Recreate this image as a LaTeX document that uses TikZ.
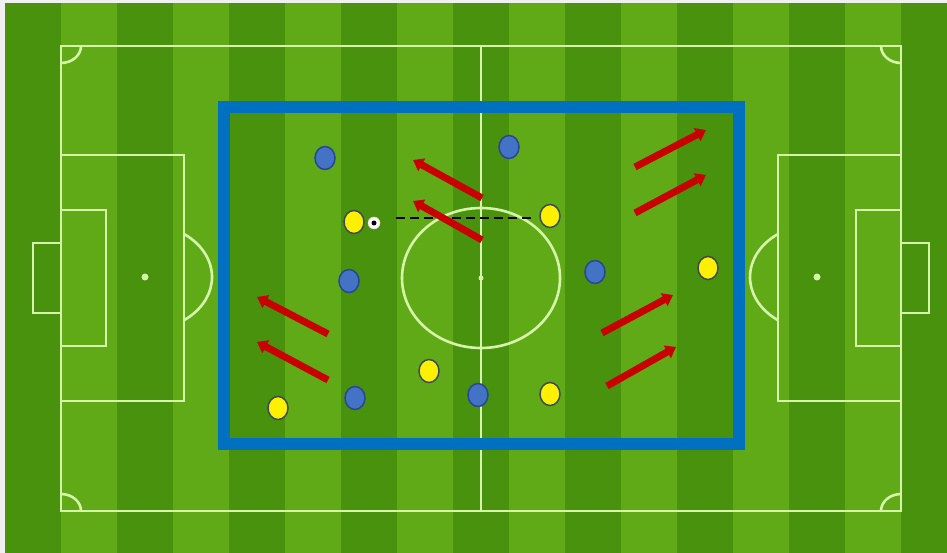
\documentclass[tikz,border=0pt]{standalone}
\usetikzlibrary{arrows.meta}
\definecolor{dstripe}{RGB}{72,146,14}
\definecolor{lstripe}{RGB}{96,170,24}
\definecolor{fline}{RGB}{215,245,170}
\definecolor{zone}{RGB}{0,112,192}
\definecolor{pblue}{RGB}{68,114,196}
\definecolor{pblueedge}{RGB}{40,70,150}
\definecolor{pyellow}{RGB}{255,240,0}
\definecolor{pyedge}{RGB}{60,75,90}
\definecolor{runred}{RGB}{200,0,0}
\tikzset{
  pitchline/.style={draw=fline, line width=2.6pt},
  blueplayer/.style={ellipse, draw=pblueedge, fill=pblue, line width=1.5pt, minimum width=20pt, minimum height=23pt, inner sep=0pt},
  yellowplayer/.style={ellipse, draw=pyedge, fill=pyellow, line width=1.5pt, minimum width=20pt, minimum height=23pt, inner sep=0pt},
  run/.style={draw=runred, line width=7pt, -{Triangle[length=10pt,width=14pt]}},
  passline/.style={draw=black, line width=2.6pt, dash pattern=on 9pt off 5pt},
}
\usetikzlibrary{shapes.geometric}
\begin{document}
\begin{tikzpicture}[x=1pt,y=-1pt]
\useasboundingbox (0,0) rectangle (947,553);
\fill[gray!12] (0,0) rectangle (947,553);
\fill[dstripe] (5,3) rectangle (947,553);
\foreach \i in {0,2,...,14} {
  \fill[lstripe] ({61+56*\i},3) rectangle ({117+56*\i},553);
}
% pitch markings
\draw[pitchline] (61,46) rectangle (901,511);
\draw[pitchline] (481,46) -- (481,511);
\draw[pitchline] (481,278) ellipse [x radius=79, y radius=70];
\fill[fline] (481,278) circle (2.5);
% left
\draw[pitchline] (61,155) rectangle (184,401);
\draw[pitchline] (61,210) rectangle (106,346);
\draw[pitchline] (33,243) rectangle (61,313);
\fill[fline] (145,277) circle (3.5);
\draw[pitchline] (184,234) arc[start angle=-54.4, end angle=54.4, x radius=67, y radius=53];
% right
\draw[pitchline] (778,155) rectangle (901,401);
\draw[pitchline] (856,210) rectangle (901,346);
\draw[pitchline] (901,243) rectangle (929,313);
\fill[fline] (817,277) circle (3.5);
\draw[pitchline] (778,234) arc[start angle=234.4, end angle=125.6, x radius=67, y radius=53];
% corner arcs
\draw[pitchline] (81,46) arc[start angle=0, end angle=90, x radius=20, y radius=17];
\draw[pitchline] (61,494) arc[start angle=-90, end angle=0, x radius=20, y radius=17];
\draw[pitchline] (881,46) arc[start angle=180, end angle=90, x radius=20, y radius=17];
\draw[pitchline] (881,511) arc[start angle=180, end angle=270, x radius=20, y radius=17];
% zone
\draw[draw=zone, line width=12pt] (224,107) rectangle (739,444);
% pass
\coordinate (ps) at (396,218);
\coordinate (pe) at (532,218);
\draw[passline] (ps) -- (pe);
% runs
\coordinate (r1s) at (482,198); \coordinate (r1e) at (413,160);
\coordinate (r2s) at (482,240); \coordinate (r2e) at (413,201);
\coordinate (r3s) at (328,334); \coordinate (r3e) at (257,297);
\coordinate (r4s) at (328,380); \coordinate (r4e) at (257,342);
\coordinate (r5s) at (635,167); \coordinate (r5e) at (706,130);
\coordinate (r6s) at (635,213); \coordinate (r6e) at (706,175);
\coordinate (r7s) at (602,333); \coordinate (r7e) at (673,295);
\coordinate (r8s) at (607,386); \coordinate (r8e) at (676,347);
\foreach \k in {1,...,8} { \draw[run] (r\k s) -- (r\k e); }
% blue players
\node[blueplayer] (b1) at (325,158) {};
\node[blueplayer] (b2) at (509,147) {};
\node[blueplayer] (b3) at (349,281) {};
\node[blueplayer] (b4) at (595,272) {};
\node[blueplayer] (b5) at (355,398) {};
\node[blueplayer] (b6) at (478,395) {};
% yellow players
\node[yellowplayer] (y1) at (354,222) {};
\node[yellowplayer] (y2) at (550,216) {};
\node[yellowplayer] (y3) at (708,268) {};
\node[yellowplayer] (y4) at (429,371) {};
\node[yellowplayer] (y5) at (550,394) {};
\node[yellowplayer] (y6) at (278,408) {};
% ball
\node[circle, fill=white, draw=white!85!black, line width=0.5pt, minimum size=12pt, inner sep=0pt] (ball) at (374,223) {};
\fill[black] (ball.center) circle (2.5);
\end{tikzpicture}
\end{document}
